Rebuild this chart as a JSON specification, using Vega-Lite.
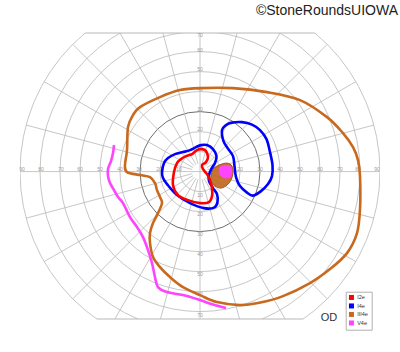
{
  "$schema": "https://vega.github.io/schema/vega-lite/v6.json",
  "width": 360,
  "height": 286,
  "autosize": "none",
  "padding": {"left": 20, "right": 20, "top": 33, "bottom": 33},
  "background": "white",
  "config": {"view": {"stroke": null}, "font": "Liberation Sans"},
  "datasets": {
    "circles": [{"r": 10}, {"r": 20}, {"r": 40}, {"r": 50}, {"r": 60}, {"r": 70}, {"r": 80}, {"r": 90}],
    "dark": [{"r": 30}],
    "spokes": [
      {"x": -90, "y": 0, "x2": 90, "y2": 0},
      {"x": 0, "y": -90, "x2": 0, "y2": 90},
      {"x": 3.864, "y": 1.035, "x2": 86.93, "y2": 23.29},
      {"x": 3.464, "y": 2, "x2": 77.94, "y2": 45},
      {"x": 2.828, "y": 2.828, "x2": 63.64, "y2": 63.64},
      {"x": 2, "y": 3.464, "x2": 45, "y2": 77.94},
      {"x": 1.035, "y": 3.864, "x2": 23.29, "y2": 86.93},
      {"x": -1.035, "y": 3.864, "x2": -23.29, "y2": 86.93},
      {"x": -2, "y": 3.464, "x2": -45, "y2": 77.94},
      {"x": -2.828, "y": 2.828, "x2": -63.64, "y2": 63.64},
      {"x": -3.464, "y": 2, "x2": -77.94, "y2": 45},
      {"x": -3.864, "y": 1.035, "x2": -86.93, "y2": 23.29},
      {"x": -3.864, "y": -1.035, "x2": -86.93, "y2": -23.29},
      {"x": -3.464, "y": -2, "x2": -77.94, "y2": -45},
      {"x": -2.828, "y": -2.828, "x2": -63.64, "y2": -63.64},
      {"x": -2, "y": -3.464, "x2": -45, "y2": -77.94},
      {"x": -1.035, "y": -3.864, "x2": -23.29, "y2": -86.93},
      {"x": 1.035, "y": -3.864, "x2": 23.29, "y2": -86.93},
      {"x": 2, "y": -3.464, "x2": 45, "y2": -77.94},
      {"x": 2.828, "y": -2.828, "x2": 63.64, "y2": -63.64},
      {"x": 3.464, "y": -2, "x2": 77.94, "y2": -45},
      {"x": 3.864, "y": -1.035, "x2": 86.93, "y2": -23.29}
    ],
    "bounds": [
      {"x": -57.4, "x2": 57.4, "y": 69.3},
      {"x": -51.66, "x2": 51.66, "y": -73.7}
    ],
    "labels": [
      {"x": -89, "y": 1.35, "t": "90"}, {"x": -79.5, "y": 1.35, "t": "80"}, {"x": -69.5, "y": 1.35, "t": "70"},
      {"x": -60, "y": 1.35, "t": "60"}, {"x": -50, "y": 1.35, "t": "50"}, {"x": -40, "y": 1.35, "t": "40"},
      {"x": -30.5, "y": 1.35, "t": "30"}, {"x": -20.5, "y": 1.35, "t": "20"}, {"x": -10.5, "y": 1.35, "t": "10"},
      {"x": 10, "y": 1.35, "t": "10"}, {"x": 20, "y": 1.35, "t": "20"}, {"x": 30, "y": 1.35, "t": "30"},
      {"x": 40, "y": 1.35, "t": "40"}, {"x": 50, "y": 1.35, "t": "50"}, {"x": 60, "y": 1.35, "t": "60"},
      {"x": 70, "y": 1.35, "t": "70"}, {"x": 79, "y": 1.35, "t": "80"}, {"x": 88.5, "y": 1.35, "t": "90"},
      {"x": 0, "y": 11.25, "t": "10"}, {"x": 0, "y": 21.25, "t": "20"}, {"x": 0, "y": 31.25, "t": "30"},
      {"x": 0, "y": 41.25, "t": "40"}, {"x": 0, "y": 51.25, "t": "50"}, {"x": 0, "y": 60.75, "t": "60"},
      {"x": 0, "y": 68.25, "t": "70"},
      {"x": 0, "y": -11.75, "t": "10"}, {"x": 0, "y": -21.25, "t": "20"}, {"x": 0, "y": -31.25, "t": "30"},
      {"x": 0, "y": -41.25, "t": "40"}, {"x": 0, "y": -51.25, "t": "50"}, {"x": 0, "y": -61.25, "t": "60"},
      {"x": 0, "y": -71.75, "t": "70"}
    ],
    "iso": [
      {"iso": "III4e", "seg": "o", "x": 0, "y": 41.75},
      {"iso": "III4e", "seg": "o", "x": 16.5, "y": 41.75},
      {"iso": "III4e", "seg": "o", "x": 33.5, "y": 39.75},
      {"iso": "III4e", "seg": "o", "x": 50, "y": 35.75},
      {"iso": "III4e", "seg": "o", "x": 63.5, "y": 27.25},
      {"iso": "III4e", "seg": "o", "x": 71.5, "y": 19.25},
      {"iso": "III4e", "seg": "o", "x": 76.5, "y": 12.25},
      {"iso": "III4e", "seg": "o", "x": 79, "y": 5.75},
      {"iso": "III4e", "seg": "o", "x": 80, "y": -2.25},
      {"iso": "III4e", "seg": "o", "x": 80, "y": -18.75},
      {"iso": "III4e", "seg": "o", "x": 78.5, "y": -30.75},
      {"iso": "III4e", "seg": "o", "x": 73.5, "y": -40.75},
      {"iso": "III4e", "seg": "o", "x": 65, "y": -48.75},
      {"iso": "III4e", "seg": "o", "x": 55, "y": -55.75},
      {"iso": "III4e", "seg": "o", "x": 41.5, "y": -62.25},
      {"iso": "III4e", "seg": "o", "x": 29, "y": -65.75},
      {"iso": "III4e", "seg": "o", "x": 20, "y": -66.75},
      {"iso": "III4e", "seg": "o", "x": 8.5, "y": -65.25},
      {"iso": "III4e", "seg": "o", "x": 0, "y": -61.75},
      {"iso": "III4e", "seg": "o", "x": -8.5, "y": -57.75},
      {"iso": "III4e", "seg": "o", "x": -15, "y": -52.75},
      {"iso": "III4e", "seg": "o", "x": -20, "y": -47.75},
      {"iso": "III4e", "seg": "o", "x": -23.5, "y": -42.75},
      {"iso": "III4e", "seg": "o", "x": -25, "y": -35.75},
      {"iso": "III4e", "seg": "o", "x": -25, "y": -30.75},
      {"iso": "III4e", "seg": "o", "x": -23.5, "y": -25.75},
      {"iso": "III4e", "seg": "o", "x": -21, "y": -20.75},
      {"iso": "III4e", "seg": "o", "x": -19, "y": -15.75},
      {"iso": "III4e", "seg": "o", "x": -20, "y": -12.75},
      {"iso": "III4e", "seg": "o", "x": -21.5, "y": -9.25},
      {"iso": "III4e", "seg": "o", "x": -22.5, "y": -5.75},
      {"iso": "III4e", "seg": "o", "x": -25, "y": -2.75},
      {"iso": "III4e", "seg": "o", "x": -30, "y": -1.75},
      {"iso": "III4e", "seg": "o", "x": -36.5, "y": -0.25},
      {"iso": "III4e", "seg": "o", "x": -37.5, "y": 3.25},
      {"iso": "III4e", "seg": "o", "x": -36.5, "y": 10.75},
      {"iso": "III4e", "seg": "o", "x": -36, "y": 22.25},
      {"iso": "III4e", "seg": "o", "x": -33.5, "y": 28.25},
      {"iso": "III4e", "seg": "o", "x": -30, "y": 32.25},
      {"iso": "III4e", "seg": "o", "x": -20, "y": 37.25},
      {"iso": "III4e", "seg": "o", "x": -10, "y": 40.75},
      {"iso": "I4e", "seg": "c", "x": -19, "y": -0.25},
      {"iso": "I4e", "seg": "c", "x": -18, "y": 4.25},
      {"iso": "I4e", "seg": "c", "x": -16, "y": 6.75},
      {"iso": "I4e", "seg": "c", "x": -12.5, "y": 8.75},
      {"iso": "I4e", "seg": "c", "x": -8.5, "y": 9.75},
      {"iso": "I4e", "seg": "c", "x": -5, "y": 10.75},
      {"iso": "I4e", "seg": "c", "x": -2, "y": 12.25},
      {"iso": "I4e", "seg": "c", "x": 0.5, "y": 13.25},
      {"iso": "I4e", "seg": "c", "x": 3.5, "y": 13.25},
      {"iso": "I4e", "seg": "c", "x": 6.5, "y": 11.25},
      {"iso": "I4e", "seg": "c", "x": 8.25, "y": 7.75},
      {"iso": "I4e", "seg": "c", "x": 7.5, "y": 4.25},
      {"iso": "I4e", "seg": "c", "x": 5.75, "y": 1.5},
      {"iso": "I4e", "seg": "c", "x": 4.5, "y": -1.75},
      {"iso": "I4e", "seg": "c", "x": 4.5, "y": -4.75},
      {"iso": "I4e", "seg": "c", "x": 6.5, "y": -8.25},
      {"iso": "I4e", "seg": "c", "x": 8.5, "y": -11.25},
      {"iso": "I4e", "seg": "c", "x": 8.75, "y": -15.25},
      {"iso": "I4e", "seg": "c", "x": 7, "y": -18},
      {"iso": "I4e", "seg": "c", "x": 2, "y": -18.25},
      {"iso": "I4e", "seg": "c", "x": -5, "y": -15.75},
      {"iso": "I4e", "seg": "c", "x": -11.5, "y": -11.75},
      {"iso": "I4e", "seg": "c", "x": -16.5, "y": -6.25},
      {"iso": "I4e", "seg": "c", "x": -18.5, "y": -3.25},
      {"iso": "I4e", "seg": "l", "x": 11, "y": 20.75},
      {"iso": "I4e", "seg": "l", "x": 13, "y": 23.25},
      {"iso": "I4e", "seg": "l", "x": 16, "y": 24.5},
      {"iso": "I4e", "seg": "l", "x": 21, "y": 24.75},
      {"iso": "I4e", "seg": "l", "x": 26, "y": 23.5},
      {"iso": "I4e", "seg": "l", "x": 30, "y": 20.75},
      {"iso": "I4e", "seg": "l", "x": 33.25, "y": 16.25},
      {"iso": "I4e", "seg": "l", "x": 35, "y": 9.75},
      {"iso": "I4e", "seg": "l", "x": 36.25, "y": 3.25},
      {"iso": "I4e", "seg": "l", "x": 36, "y": -2.25},
      {"iso": "I4e", "seg": "l", "x": 34, "y": -6.25},
      {"iso": "I4e", "seg": "l", "x": 30.5, "y": -9.75},
      {"iso": "I4e", "seg": "l", "x": 26.5, "y": -12},
      {"iso": "I4e", "seg": "l", "x": 23.5, "y": -10.5},
      {"iso": "I4e", "seg": "l", "x": 20, "y": -7.25},
      {"iso": "I4e", "seg": "l", "x": 18, "y": -2.75},
      {"iso": "I4e", "seg": "l", "x": 17.25, "y": 2.75},
      {"iso": "I4e", "seg": "l", "x": 16.5, "y": 7.75},
      {"iso": "I4e", "seg": "l", "x": 14, "y": 11.5},
      {"iso": "I4e", "seg": "l", "x": 11.75, "y": 15.25},
      {"iso": "I2e", "seg": "r", "x": -13, "y": -0.25},
      {"iso": "I2e", "seg": "r", "x": -11.5, "y": 4.25},
      {"iso": "I2e", "seg": "r", "x": -9.5, "y": 6.25},
      {"iso": "I2e", "seg": "r", "x": -7, "y": 7.75},
      {"iso": "I2e", "seg": "r", "x": -4, "y": 8.75},
      {"iso": "I2e", "seg": "r", "x": -1.5, "y": 10.75},
      {"iso": "I2e", "seg": "r", "x": 1, "y": 11.25},
      {"iso": "I2e", "seg": "r", "x": 3, "y": 10.25},
      {"iso": "I2e", "seg": "r", "x": 4, "y": 7.25},
      {"iso": "I2e", "seg": "r", "x": 3, "y": 4.75},
      {"iso": "I2e", "seg": "r", "x": 1, "y": 3.25},
      {"iso": "I2e", "seg": "r", "x": 1.5, "y": 1.25},
      {"iso": "I2e", "seg": "r", "x": 3.5, "y": -1.25},
      {"iso": "I2e", "seg": "r", "x": 5, "y": -4.25},
      {"iso": "I2e", "seg": "r", "x": 6, "y": -8.25},
      {"iso": "I2e", "seg": "r", "x": 6, "y": -12.25},
      {"iso": "I2e", "seg": "r", "x": 4.5, "y": -15.25},
      {"iso": "I2e", "seg": "r", "x": 0, "y": -15.75},
      {"iso": "I2e", "seg": "r", "x": -6, "y": -14.25},
      {"iso": "I2e", "seg": "r", "x": -11, "y": -11.75},
      {"iso": "I2e", "seg": "r", "x": -13.5, "y": -6.75}
    ],
    "v4e": [
      {"iso": "V4e", "x": -43, "y": 13.25},
      {"iso": "V4e", "x": -43.5, "y": 9.25},
      {"iso": "V4e", "x": -44.5, "y": 5.25},
      {"iso": "V4e", "x": -46, "y": 1.25},
      {"iso": "V4e", "x": -46, "y": -2.25},
      {"iso": "V4e", "x": -45, "y": -5.75},
      {"iso": "V4e", "x": -43, "y": -9.25},
      {"iso": "V4e", "x": -41, "y": -12.75},
      {"iso": "V4e", "x": -38.5, "y": -15.75},
      {"iso": "V4e", "x": -35, "y": -22.75},
      {"iso": "V4e", "x": -31.5, "y": -27.75},
      {"iso": "V4e", "x": -28.5, "y": -32.75},
      {"iso": "V4e", "x": -26, "y": -39.25},
      {"iso": "V4e", "x": -24, "y": -45.75},
      {"iso": "V4e", "x": -22.5, "y": -52.75},
      {"iso": "V4e", "x": -21, "y": -57.75},
      {"iso": "V4e", "x": -16.5, "y": -60.25},
      {"iso": "V4e", "x": -8.5, "y": -61.75},
      {"iso": "V4e", "x": 0, "y": -64.25},
      {"iso": "V4e", "x": 6.5, "y": -66.5},
      {"iso": "V4e", "x": 13, "y": -68.25}
    ],
    "blind": [
      {"x": 5.5, "y": -2.25}, {"x": 6.5, "y": 1.25}, {"x": 9.5, "y": 3.25}, {"x": 13.5, "y": 4.25},
      {"x": 16, "y": 2.75}, {"x": 16.5, "y": -0.75}, {"x": 15.5, "y": -4.25}, {"x": 13.5, "y": -6.75},
      {"x": 10.5, "y": -8.25}, {"x": 7.5, "y": -7.25}, {"x": 5.5, "y": -4.75}
    ],
    "blindm": [
      {"x": 10, "y": 2.25}, {"x": 13, "y": 3.25}, {"x": 15.5, "y": 2.25}, {"x": 16, "y": -0.25},
      {"x": 15, "y": -2.75}, {"x": 12.5, "y": -3.25}, {"x": 10, "y": -1.75}, {"x": 9.5, "y": 0.75}
    ],
    "od": [{"x": 64.5, "y": -74.6, "t": "OD"}],
    "copy": [{"x": 99, "y": 78.25, "t": "©StoneRoundsUIOWA"}]
  },
  "layer": [
    {
      "data": {"name": "circles"},
      "mark": {"type": "arc", "filled": false, "stroke": "#b8b8b8", "strokeWidth": 0.8, "theta": 0, "theta2": 6.2832, "clip": true},
      "encoding": {
        "x": {"datum": 0, "type": "quantitative", "scale": {"domain": [-90, 90], "nice": false, "zero": false}, "axis": null},
        "y": {"datum": 0, "type": "quantitative", "scale": {"domain": [-73.7, 69.3], "nice": false, "zero": false}, "axis": null},
        "radius": {"field": "r", "type": "quantitative", "stack": null, "scale": {"type": "linear", "domain": [0, 90], "range": [0, 180], "zero": true}, "legend": null}
      }
    },
    {
      "data": {"name": "dark"},
      "mark": {"type": "arc", "filled": false, "stroke": "#6e6e6e", "strokeWidth": 1, "theta": 0, "theta2": 6.2832, "clip": true},
      "encoding": {
        "x": {"datum": 0, "type": "quantitative"},
        "y": {"datum": 0, "type": "quantitative"},
        "radius": {"field": "r", "type": "quantitative", "stack": null}
      }
    },
    {
      "data": {"name": "spokes"},
      "mark": {"type": "rule", "stroke": "#b8b8b8", "strokeWidth": 0.8, "clip": true},
      "encoding": {
        "x": {"field": "x", "type": "quantitative"},
        "y": {"field": "y", "type": "quantitative"},
        "x2": {"field": "x2"},
        "y2": {"field": "y2"}
      }
    },
    {
      "data": {"name": "bounds"},
      "mark": {"type": "rule", "stroke": "#b8b8b8", "strokeWidth": 1},
      "encoding": {
        "x": {"field": "x", "type": "quantitative"},
        "x2": {"field": "x2"},
        "y": {"field": "y", "type": "quantitative"}
      }
    },
    {
      "data": {"name": "labels"},
      "mark": {"type": "text", "fontSize": 5, "color": "#9a9a9a", "align": "center", "baseline": "middle"},
      "encoding": {
        "x": {"field": "x", "type": "quantitative"},
        "y": {"field": "y", "type": "quantitative"},
        "text": {"field": "t"}
      }
    },
    {
      "data": {"name": "blind"},
      "mark": {"type": "line", "interpolate": "cardinal-closed", "fill": "#c0651c", "fillOpacity": 0.9, "stroke": "#a8561a", "strokeWidth": 1, "filled": true},
      "encoding": {
        "x": {"field": "x", "type": "quantitative"},
        "y": {"field": "y", "type": "quantitative"},
        "order": {"value": null}
      }
    },
    {
      "data": {"name": "blindm"},
      "mark": {"type": "line", "interpolate": "cardinal-closed", "fill": "#ff44ff", "stroke": "#ff44ff", "strokeWidth": 0.5, "filled": true},
      "encoding": {
        "x": {"field": "x", "type": "quantitative"},
        "y": {"field": "y", "type": "quantitative"},
        "order": {"value": null}
      }
    },
    {
      "data": {"name": "iso"},
      "mark": {"type": "line", "interpolate": "cardinal-closed", "strokeWidth": 2.6},
      "encoding": {
        "x": {"field": "x", "type": "quantitative"},
        "y": {"field": "y", "type": "quantitative"},
        "detail": {"field": "seg"},
        "order": {"value": null},
        "color": {
          "field": "iso", "type": "nominal",
          "scale": {"domain": ["I2e", "I4e", "III4e", "V4e"], "range": ["#ff0000", "#0000ff", "#c8691e", "#ff44ff"]},
          "legend": {
            "title": null, "orient": "none", "legendX": 325.7, "legendY": 258.7,
            "symbolType": "square", "symbolSize": 25, "symbolStrokeWidth": 0,
            "labelFontSize": 5.5, "labelColor": "#333333", "labelOffset": 3,
            "rowPadding": 1.5, "padding": 3, "strokeColor": "#b0b0b0", "fillColor": "white",
            "encode": {"symbols": {"update": {"fill": {"scale": "color", "field": "value"}, "stroke": {"value": "transparent"}}}}
          }
        }
      }
    },
    {
      "data": {"name": "v4e"},
      "mark": {"type": "line", "interpolate": "cardinal", "strokeWidth": 2.6},
      "encoding": {
        "x": {"field": "x", "type": "quantitative"},
        "y": {"field": "y", "type": "quantitative"},
        "order": {"value": null},
        "color": {"field": "iso", "type": "nominal"}
      }
    },
    {
      "data": {"name": "od"},
      "mark": {"type": "text", "fontSize": 11, "color": "#333333", "align": "center", "baseline": "alphabetic"},
      "encoding": {
        "x": {"field": "x", "type": "quantitative"},
        "y": {"field": "y", "type": "quantitative"},
        "text": {"field": "t"}
      }
    },
    {
      "data": {"name": "copy"},
      "mark": {"type": "text", "fontSize": 14, "color": "#222222", "align": "right", "baseline": "alphabetic"},
      "encoding": {
        "x": {"field": "x", "type": "quantitative"},
        "y": {"field": "y", "type": "quantitative"},
        "text": {"field": "t"}
      }
    }
  ]
}
